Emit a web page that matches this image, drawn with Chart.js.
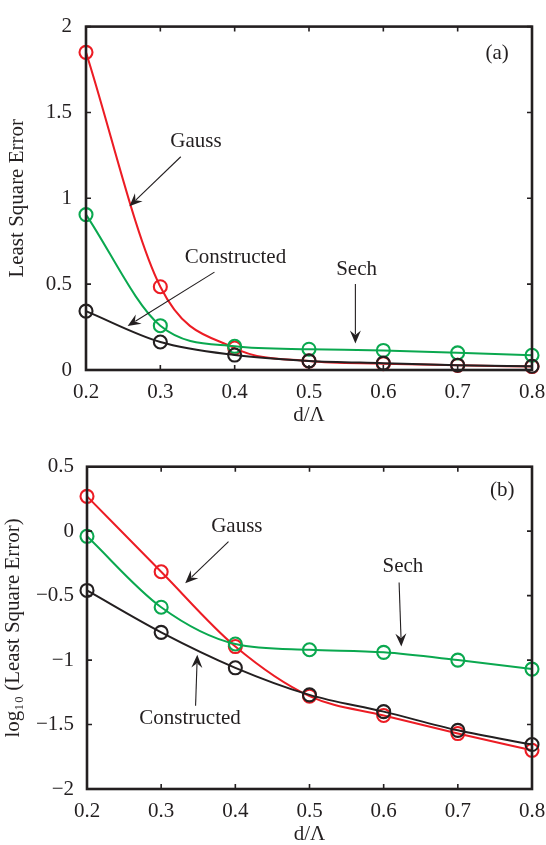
<!DOCTYPE html>
<html>
<head>
<meta charset="utf-8">
<script src="https://cdn.jsdelivr.net/npm/chart.js@4.4.1/dist/chart.umd.min.js"></script>
<style>
html, body { margin: 0; padding: 0; background: #fff; }
#wrap { position: relative; width: 546px; height: 845px; }
#topBox { position: absolute; left: 0; top: 0; width: 546px; height: 430px; }
#botBox { position: absolute; left: 0; top: 430px; width: 546px; height: 415px; }
</style>
</head>
<body>
<div id="wrap">
  <div id="topBox"><canvas id="chartA"></canvas></div>
  <div id="botBox"><canvas id="chartB"></canvas></div>
</div>
<script>
var ratios = [0.2, 0.3, 0.4, 0.5, 0.6, 0.7, 0.8];

// panel (a): least square error of each fit
var gaussErr = [1.85, 0.485, 0.128, 0.052, 0.037, 0.027, 0.020];
var sechErr = [0.905, 0.258, 0.138, 0.121, 0.114, 0.100, 0.086];
var constructedErr = [0.343, 0.163, 0.087, 0.053, 0.040, 0.028, 0.022];

// panel (b): log10 of the same errors
var gaussLog = [0.27, -0.315, -0.895, -1.28, -1.43, -1.57, -1.70];
var sechLog = [-0.04, -0.59, -0.875, -0.92, -0.94, -1.0, -1.07];
var constructedLog = [-0.46, -0.785, -1.06, -1.27, -1.40, -1.545, -1.655];

var ticksA = [0, 0.5, 1, 1.5, 2];
var ticksB = [-2, -1.5, -1, -0.5, 0, 0.5];

// labels and arrows, placed in data units
var notesA = [
  { text: '(a)', x: 0.753, y: 1.846 },
  { text: 'Gauss', x: 0.348, y: 1.328 },
  { text: 'Constructed', x: 0.401, y: 0.655 },
  { text: 'Sech', x: 0.564, y: 0.587 }
];
var arrowsA = [
  { from: [0.3275, 1.242], to: [0.2584, 0.954] },
  { from: [0.3728, 0.570], to: [0.256, 0.256] },
  { from: [0.5624, 0.501], to: [0.5624, 0.154] }
];
var notesB = [
  { text: '(b)', x: 0.760, y: 0.314 },
  { text: 'Gauss', x: 0.402, y: 0.040 },
  { text: 'Sech', x: 0.626, y: -0.275 },
  { text: 'Constructed', x: 0.339, y: -1.45 }
];
var arrowsB = [
  { from: [0.3908, -0.081], to: [0.3324, -0.404] },
  { from: [0.6208, -0.399], to: [0.6238, -0.895] },
  { from: [0.3464, -1.355], to: [0.3487, -0.959] }
];

var RED = '#ec1c24';
var GREEN = '#0aa84f';
var BLACK = '#231f20';
var FONT = '"Liberation Serif", "Times New Roman", serif';

function fmtNum(v) {
  return v < 0 ? '\u2212' + Math.abs(v) : String(v);
}

// box around the plot with inward ticks on all four sides
var framePlugin = {
  id: 'frame',
  afterDatasetsDraw: function (chart) {
    var ctx = chart.ctx, a = chart.chartArea;
    var xs = chart.scales.x, ys = chart.scales.y;
    ctx.save();
    ctx.strokeStyle = BLACK;
    ctx.lineWidth = 1.6;
    ctx.beginPath();
    xs.ticks.forEach(function (t) {
      var px = xs.getPixelForValue(t.value);
      ctx.moveTo(px, a.bottom); ctx.lineTo(px, a.bottom - 5);
      ctx.moveTo(px, a.top); ctx.lineTo(px, a.top + 5);
    });
    ys.ticks.forEach(function (t) {
      var py = ys.getPixelForValue(t.value);
      ctx.moveTo(a.left, py); ctx.lineTo(a.left + 5, py);
      ctx.moveTo(a.right, py); ctx.lineTo(a.right - 5, py);
    });
    ctx.stroke();
    ctx.lineWidth = 2.6;
    ctx.strokeRect(a.left, a.top, a.right - a.left, a.bottom - a.top);
    ctx.restore();
  }
};

function drawArrow(ctx, x1, y1, x2, y2) {
  var ang = Math.atan2(y2 - y1, x2 - x1);
  var len = 13, half = 5.5;
  ctx.beginPath();
  ctx.moveTo(x1, y1);
  ctx.lineTo(x2 - Math.cos(ang) * len * 0.7, y2 - Math.sin(ang) * len * 0.7);
  ctx.stroke();
  var bx = x2 - Math.cos(ang) * len, by = y2 - Math.sin(ang) * len;
  var nx = -Math.sin(ang), ny = Math.cos(ang);
  ctx.beginPath();
  ctx.moveTo(x2, y2);
  ctx.lineTo(bx + nx * half, by + ny * half);
  ctx.lineTo(x2 - Math.cos(ang) * len * 0.65, y2 - Math.sin(ang) * len * 0.65);
  ctx.lineTo(bx - nx * half, by - ny * half);
  ctx.closePath();
  ctx.fill();
}

var notePlugin = {
  id: 'notes',
  afterDraw: function (chart) {
    var opts = chart.options.plugins.notes;
    var ctx = chart.ctx;
    var xs = chart.scales.x, ys = chart.scales.y;
    ctx.save();
    ctx.fillStyle = BLACK;
    ctx.strokeStyle = BLACK;
    ctx.lineWidth = 1.1;
    ctx.font = '21px ' + FONT;
    ctx.textAlign = 'center';
    ctx.textBaseline = 'middle';
    opts.notes.forEach(function (n) {
      ctx.fillText(n.text, xs.getPixelForValue(n.x), ys.getPixelForValue(n.y));
    });
    opts.arrows.forEach(function (ar) {
      drawArrow(ctx,
        xs.getPixelForValue(ar.from[0]), ys.getPixelForValue(ar.from[1]),
        xs.getPixelForValue(ar.to[0]), ys.getPixelForValue(ar.to[1]));
    });
    ctx.restore();
  }
};

function series(label, values, color) {
  return {
    label: label,
    data: ratios.map(function (r, i) { return { x: r, y: values[i] }; }),
    borderColor: color,
    borderWidth: 2,
    pointRadius: 6.5,
    pointBorderWidth: 2.1,
    pointBorderColor: color,
    pointBackgroundColor: 'rgba(0,0,0,0)',
    cubicInterpolationMode: 'monotone',
    clip: false
  };
}

function makeChart(id, cfg) {
  return new Chart(document.getElementById(id), {
    type: 'line',
    data: {
      datasets: [
        series('Constructed', cfg.constructed, BLACK),
        series('Sech', cfg.sech, GREEN),
        series('Gauss', cfg.gauss, RED)
      ]
    },
    options: {
      responsive: true,
      maintainAspectRatio: false,
      animation: false,
      events: [],
      layout: { padding: cfg.padding },
      plugins: {
        legend: { display: false },
        tooltip: { enabled: false },
        notes: { notes: cfg.notes, arrows: cfg.arrows }
      },
      scales: {
        x: {
          type: 'linear',
          min: 0.2,
          max: 0.8,
          afterBuildTicks: function (axis) {
            axis.ticks = ratios.map(function (v) { return { value: v }; });
          },
          afterFit: function (axis) {
            axis.height = 56;
            // let the last tick label run past the plot edge
            axis.paddingLeft = 0;
            axis.paddingRight = 0;
          },
          grid: { display: false, drawTicks: false },
          border: { display: false },
          ticks: {
            color: BLACK,
            padding: 10,
            font: { family: FONT, size: 21 },
            callback: function (v) { return v.toFixed(1); }
          },
          title: {
            display: true,
            text: 'd/\u039b',
            color: BLACK,
            padding: { top: 0, bottom: -2 },
            font: { family: FONT, size: 21 }
          }
        },
        y: {
          min: cfg.yMin,
          max: cfg.yMax,
          afterBuildTicks: function (axis) {
            axis.ticks = cfg.yTicks.map(function (v) { return { value: v }; });
          },
          afterFit: function (axis) { axis.width = cfg.yWidth; },
          grid: { display: false, drawTicks: false },
          border: { display: false },
          ticks: {
            color: BLACK,
            padding: cfg.tickPad,
            font: { family: FONT, size: 21 },
            callback: fmtNum
          },
          title: {
            display: true,
            text: cfg.yTitle,
            color: BLACK,
            padding: { top: cfg.titlePad, bottom: 0 },
            font: { family: FONT, size: 21 }
          }
        }
      }
    },
    plugins: [framePlugin, notePlugin]
  });
}

makeChart('chartA', {
  gauss: gaussErr, sech: sechErr, constructed: constructedErr,
  yMin: 0, yMax: 2, yTicks: ticksA, yWidth: 86, tickPad: 14, titlePad: 5,
  yTitle: 'Least Square Error',
  padding: { top: 18, right: 14, bottom: 4, left: 0 },
  notes: notesA, arrows: arrowsA
});

makeChart('chartB', {
  gauss: gaussLog, sech: sechLog, constructed: constructedLog,
  yMin: -2, yMax: 0.5, yTicks: ticksB, yWidth: 87, tickPad: 13, titlePad: 1,
  yTitle: 'log\u2081\u2080 (Least Square Error)',
  padding: { top: 36.7, right: 14, bottom: 0, left: 0 },
  notes: notesB, arrows: arrowsB
});
</script>
</body>
</html>
